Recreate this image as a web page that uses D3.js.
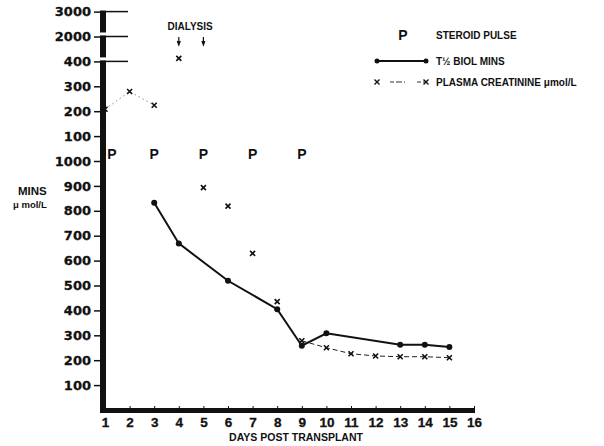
<!DOCTYPE html>
<html>
<head>
<meta charset="utf-8">
<script src="https://cdn.jsdelivr.net/npm/d3@7"></script>
<style>
  body { margin: 0; background: #fff; }
  svg text { fill: #111; font-family: "Liberation Sans", Arial, sans-serif; font-weight: bold; }
  .ytick text { font-family: "DejaVu Sans", sans-serif; font-size: 13px; stroke: #111; stroke-width: 0.3px; }
</style>
</head>
<body>
<div id="chart"></div>
<script>
"use strict";

// T 1/2 biol (mins), lower scale
const halfLifeDays = [3, 4, 6, 8, 9, 10, 13, 14, 15];
const halfLifeMins = [832, 669, 519, 405, 258, 308, 262, 262, 253];

// plasma creatinine, days 1-4 read on the upper (broken) scale
const creatUpperDays = [1, 2, 3, 4];
const creatUpperVals = [208, 279, 224, 412];
// plasma creatinine, read on the lower scale
const creatDays = [5, 6, 7, 8, 9, 10, 11, 12, 13, 14, 15];
const creatVals = [893, 819, 629, 435, 278, 250, 226, 217, 214, 214, 210];

const steroidPulseDays = [1, 3, 5, 7, 9];
const dialysisDays = [4, 5];

const dayTicks = d3.range(1, 17);
const lowerTicks = [100, 200, 300, 400, 500, 600, 700, 800, 900, 1000];
const upperTicks = [100, 200, 300, 400, 500, 600];
const upperTickLabels = ["100", "200", "300", "400", "2000", "3000"];

let width = 604, height = 446;

let svg = d3.select("#chart").append("svg")
  .attr("width", width)
  .attr("height", height);

let x = d3.scaleLinear().domain([1, 16]).range([105, 474]);
let y = d3.scaleLinear().domain([0, 1000]).range([410, 161]);
let yUpper = d3.scaleLinear().domain([0, 400]).range([y(1000), y(1000) - 400 * 0.249]);

let axisX = 103;

// y axis: thick bar, broken at the top
let breaks = upperTicks.slice(3).map(v => yUpper(v)).reverse(); // 3000, 2000, 400
breaks.forEach((yb, i) => {
  let yEnd = i < breaks.length - 1 ? breaks[i + 1] - 4 : 413;
  svg.append("line")
    .attr("x1", axisX).attr("x2", axisX)
    .attr("y1", yb - 1).attr("y2", yEnd)
    .style("stroke", "#111").style("stroke-width", 6);
  svg.append("line")
    .attr("x1", axisX - 3).attr("x2", 128)
    .attr("y1", yb).attr("y2", yb)
    .style("stroke", "#111").style("stroke-width", 1.5);
});

svg.append("g")
  .attr("class", "ytick")
  .attr("transform", "translate(" + (axisX - 3) + ",0)")
  .call(d3.axisLeft(y).tickValues(lowerTicks).tickSize(6).tickPadding(3).tickFormat(d3.format("d")))
  .call(g => g.select(".domain").remove());

svg.append("g")
  .attr("class", "ytick")
  .attr("transform", "translate(" + (axisX - 3) + ",0)")
  .call(d3.axisLeft(yUpper).tickValues(upperTicks).tickSize(6).tickPadding(3)
    .tickFormat((d, i) => upperTickLabels[i]))
  .call(g => g.select(".domain").remove());

svg.selectAll(".ytick line").style("stroke", "#111").style("stroke-width", 1.5);

// x axis: thick bar
svg.append("rect")
  .attr("x", 100).attr("y", 408)
  .attr("width", 474 - 100).attr("height", 5)
  .style("fill", "#111");

let xAxisG = svg.append("g")
  .attr("transform", "translate(0,413)")
  .call(d3.axisBottom(x).tickValues(dayTicks).tickSizeInner(-7).tickSizeOuter(0).tickPadding(4))
  .call(g => g.select(".domain").remove());
xAxisG.selectAll("line").style("stroke", "#111").style("stroke-width", 1);
xAxisG.selectAll("text")
  .style("font-size", "13.5px")
  .style("font-family", "\"Liberation Sans\", Arial, sans-serif")
  .style("font-weight", "bold")
  .style("stroke", "#111")
  .style("stroke-width", "0.3px");

svg.append("text")
  .attr("x", 296).attr("y", 441)
  .attr("text-anchor", "middle")
  .style("font-size", "10.5px")
  .text("DAYS POST TRANSPLANT");

svg.append("text")
  .attr("x", 18).attr("y", 195)
  .style("font-size", "11.5px")
  .text("MINS");
svg.append("text")
  .attr("x", 13).attr("y", 208)
  .style("font-size", "9.5px")
  .text("μ mol/L");

// creatinine: dashed links only where the original joins the points
let creatUpper = creatUpperDays.map((d, i) => ({ day: d, py: yUpper(creatUpperVals[i]) }));
let creatLower = creatDays.map((d, i) => ({ day: d, py: y(creatVals[i]) }));
let creatAll = creatUpper.concat(creatLower);

let line = d3.line().x(d => x(d.day)).y(d => d.py);

svg.append("path")
  .datum(creatAll.filter(d => d.day <= 3))
  .attr("d", line)
  .style("fill", "none")
  .style("stroke", "#888")
  .style("stroke-width", 1)
  .style("stroke-dasharray", "1.5,3");

svg.append("path")
  .datum(creatAll.filter(d => d.day >= 9))
  .attr("d", line)
  .style("fill", "none")
  .style("stroke", "#222")
  .style("stroke-width", 1)
  .style("stroke-dasharray", "5,3");

// T 1/2 line
let halfLife = halfLifeDays.map((d, i) => ({ day: d, py: y(halfLifeMins[i]) }));
svg.append("path")
  .datum(halfLife)
  .attr("d", line)
  .style("fill", "none")
  .style("stroke", "#111")
  .style("stroke-width", 2);

svg.selectAll(".dot")
  .data(halfLife)
  .enter().append("circle")
  .attr("class", "dot")
  .attr("cx", d => x(d.day))
  .attr("cy", d => d.py)
  .attr("r", 3)
  .style("fill", "#111");

let cross = "M-2.5,-2.5L2.5,2.5M-2.5,2.5L2.5,-2.5";
svg.selectAll(".cross")
  .data(creatAll)
  .enter().append("path")
  .attr("class", "cross")
  .attr("transform", d => "translate(" + x(d.day) + "," + d.py + ")")
  .attr("d", cross)
  .style("stroke", "#111")
  .style("stroke-width", 1.6)
  .style("fill", "none");

// steroid pulses
svg.selectAll(".pulse")
  .data(steroidPulseDays)
  .enter().append("text")
  .attr("class", "pulse")
  .attr("x", d => Math.max(x(d), axisX + 9))
  .attr("y", 159)
  .attr("text-anchor", "middle")
  .style("font-size", "14px")
  .text("P");

// dialysis
svg.append("text")
  .attr("x", d3.mean(dialysisDays, d => x(d)) - 1)
  .attr("y", 30)
  .attr("text-anchor", "middle")
  .style("font-size", "10px")
  .text("DIALYSIS");

dialysisDays.forEach(d => {
  let cx = x(d);
  svg.append("path")
    .attr("d", "M" + cx + ",37V44M" + (cx - 1.5) + ",41L" + cx + ",45L" + (cx + 1.5) + ",41")
    .style("stroke", "#111")
    .style("stroke-width", 1.2)
    .style("fill", "none");
});

// legend
let legend = svg.append("g");
legend.append("text")
  .attr("x", 403).attr("y", 40)
  .attr("text-anchor", "middle")
  .style("font-size", "14px")
  .text("P");
legend.append("text")
  .attr("x", 436).attr("y", 39)
  .style("font-size", "10px")
  .text("STEROID PULSE");

legend.append("line")
  .attr("x1", 377).attr("x2", 426)
  .attr("y1", 61).attr("y2", 61)
  .style("stroke", "#111").style("stroke-width", 2);
legend.selectAll(".ldot")
  .data([377, 426])
  .enter().append("circle")
  .attr("cx", d => d).attr("cy", 61).attr("r", 2.5)
  .style("fill", "#111");
legend.append("text")
  .attr("x", 436).attr("y", 65)
  .style("font-size", "10px")
  .text("T½ BIOL MINS");

legend.append("line")
  .attr("x1", 377).attr("x2", 426)
  .attr("y1", 82).attr("y2", 82)
  .style("stroke", "#333").style("stroke-width", 1)
  .style("stroke-dasharray", "1,12,4,2,6,2");
legend.selectAll(".lcross")
  .data([377, 426])
  .enter().append("path")
  .attr("transform", d => "translate(" + d + ",82)")
  .attr("d", cross)
  .style("stroke", "#111").style("stroke-width", 1.4);
legend.append("text")
  .attr("x", 436).attr("y", 86)
  .style("font-size", "10px")
  .text("PLASMA CREATININE μmol/L");
</script>
</body>
</html>
